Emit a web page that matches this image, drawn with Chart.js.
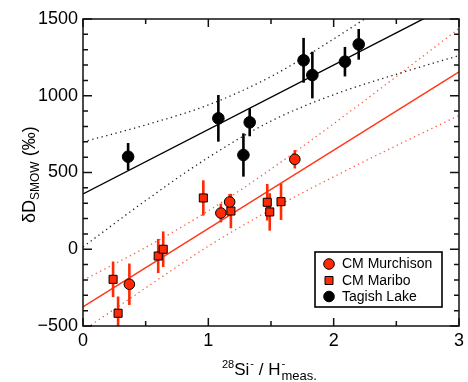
<!DOCTYPE html>
<html>
<head>
<meta charset="utf-8">
<script src="https://cdn.jsdelivr.net/npm/chart.js@4"></script>
<style>
  html, body { margin: 0; padding: 0; background: #fff; }
</style>
</head>
<body>
<canvas id="chart" width="468" height="382"></canvas>
<script>
// Data
const murchisonX = [0.37, 1.10, 1.17, 1.69];
const murchisonY = [-228, 236, 308, 586];
const murchisonErr = [135, 61, 52, 60];

const mariboX = [0.24, 0.28, 0.60, 0.64, 0.96, 1.18, 1.47, 1.49, 1.58];
const mariboY = [-196, -417, -44, 0, 334, 249, 306, 243, 310];
const mariboErr = [116, 109, 111, 116, 115, 112, 119, 122, 119];

const tagishX = [0.36, 1.08, 1.28, 1.33, 1.76, 1.83, 2.09, 2.20];
const tagishY = [603, 853, 614, 827, 1231, 1135, 1222, 1335];
const tagishErr = [89, 152, 141, 91, 146, 152, 96, 100];

// regression lines and their confidence envelopes
const fitX = [0, 3];
const tagishFit = [360, 1620];
const redFit = [-375, 1155];
const bandX = [0, 0.5, 1, 1.5, 2, 2.5, 3];
const tagishUpper = [699, 810, 940, 1125, 1370, 1640, 1930];
const tagishLower = [15, 317, 598, 835, 1007, 1140, 1262];
const redUpper = [-202, 12, 250, 522, 818, 1125, 1438];
const redLower = [-530, -252, 20, 258, 472, 675, 872];

const xTicks = [0, 1, 2, 3];
const yTicks = [-500, 0, 500, 1000, 1500];

const RED = '#ff2a05';
const FONT = '"Liberation Sans", Arial, Helvetica, sans-serif';

const toXY = (xs, ys) => xs.map((x, i) => ({ x: x, y: ys[i] }));

function lineSet(xs, ys, color, dashed) {
    return {
        data: toXY(xs, ys),
        showLine: true,
        pointRadius: 0,
        borderColor: color,
        borderWidth: dashed ? 1.3 : 1.4,
        borderDash: dashed ? [1.3, 3.5] : [],
        cubicInterpolationMode: dashed ? 'monotone' : 'default',
        fill: false,
        order: 5,
        isFit: true
    };
}

// error bars, drawn right before each point set
const errorBars = {
    id: 'errorBars',
    beforeDatasetDraw(chart, args) {
        const ds = chart.data.datasets[args.index];
        if (!ds.errors) return;
        const ctx = chart.ctx;
        const xs = chart.scales.x, ys = chart.scales.y;
        const a = chart.chartArea;
        ctx.save();
        ctx.beginPath();
        ctx.rect(a.left, a.top, a.right - a.left, a.bottom - a.top);
        ctx.clip();
        ctx.strokeStyle = ds.errColor;
        ctx.lineWidth = 2.6;
        ds.data.forEach((p, i) => {
            const px = xs.getPixelForValue(p.x);
            ctx.beginPath();
            ctx.moveTo(px, ys.getPixelForValue(p.y - ds.errors[i]));
            ctx.lineTo(px, ys.getPixelForValue(p.y + ds.errors[i]));
            ctx.stroke();
        });
        ctx.restore();
    }
};

// frame with inward ticks on all four sides
const frame = {
    id: 'frame',
    afterDatasetsDraw(chart) {
        const ctx = chart.ctx;
        const a = chart.chartArea;
        const xs = chart.scales.x, ys = chart.scales.y;
        ctx.save();
        ctx.strokeStyle = '#111';
        ctx.lineWidth = 1.5;
        ctx.strokeRect(a.left, a.top, a.right - a.left, a.bottom - a.top);
        ctx.beginPath();
        for (let v = 0; v <= 3.001; v += 0.5) {
            const px = xs.getPixelForValue(v);
            const len = Math.abs(v - Math.round(v)) < 1e-6 ? 8 : 5;
            ctx.moveTo(px, a.bottom); ctx.lineTo(px, a.bottom - len);
            ctx.moveTo(px, a.top); ctx.lineTo(px, a.top + len);
        }
        for (let v = -500; v <= 1500; v += 100) {
            const py = ys.getPixelForValue(v);
            const len = v % 500 === 0 ? 9 : 5;
            ctx.moveTo(a.left, py); ctx.lineTo(a.left + len, py);
            ctx.moveTo(a.right, py); ctx.lineTo(a.right - len, py);
        }
        ctx.stroke();
        ctx.restore();
    }
};

// axis titles and legend box
const annotations = {
    id: 'annotations',
    afterDraw(chart) {
        const ctx = chart.ctx;
        ctx.save();
        ctx.fillStyle = '#000';
        ctx.textBaseline = 'alphabetic';
        ctx.textAlign = 'left';

        // x title: 28Si- / H-meas.
        const big = '17px ' + FONT, sup = '11px ' + FONT, sub = '13px ' + FONT;
        let x = 222;
        const base = 375;
        ctx.font = sup; ctx.fillText('28', x, base - 7); x += ctx.measureText('28').width;
        ctx.font = big; ctx.fillText('Si', x, base); x += ctx.measureText('Si').width + 1;
        ctx.font = sup; ctx.fillText('-', x, base - 8); x += ctx.measureText('-').width;
        ctx.font = big; ctx.fillText(' / H', x, base); x += ctx.measureText(' / H').width + 1;
        ctx.font = sup; ctx.fillText('-', x, base - 8);
        ctx.font = sub; ctx.fillText('meas.', x, base + 5);

        // y title: δD SMOW (‰)
        ctx.translate(35, 223);
        ctx.rotate(-Math.PI / 2);
        let y = 0;
        ctx.font = '18px ' + FONT; ctx.fillText('\u03b4D', y, 0); y += ctx.measureText('\u03b4D').width;
        ctx.font = '12px ' + FONT; ctx.fillText('SMOW', y, 4); y += ctx.measureText('SMOW').width;
        ctx.font = '18px ' + FONT; ctx.fillText(' (\u2030)', y, 0);
        ctx.setTransform(1, 0, 0, 1, 0, 0);

        // legend
        const lx = 315, ly = 252, lw = 127, lh = 55;
        ctx.fillStyle = '#fff';
        ctx.fillRect(lx, ly, lw, lh);
        ctx.strokeStyle = '#000';
        ctx.lineWidth = 1.6;
        ctx.strokeRect(lx, ly, lw, lh);
        const items = chart.data.datasets.filter(d => !d.isFit);
        const rows = [264, 280.5, 296.5];
        ctx.font = '14px ' + FONT;
        ctx.textBaseline = 'middle';
        items.forEach((d, i) => {
            const cy = rows[i];
            ctx.fillStyle = d.backgroundColor;
            ctx.strokeStyle = '#000';
            ctx.lineWidth = 1;
            ctx.beginPath();
            if (d.pointStyle === 'rect') {
                ctx.rect(329 - 4, cy - 4, 8, 8);
            } else {
                ctx.arc(329, cy, 5.3, 0, Math.PI * 2);
            }
            ctx.fill();
            ctx.stroke();
            ctx.fillStyle = '#000';
            ctx.fillText(d.label, 342, cy + 0.5);
        });
        ctx.restore();
    }
};

new Chart(document.getElementById('chart').getContext('2d'), {
    type: 'scatter',
    data: {
        datasets: [
            {
                label: 'CM Murchison',
                data: toXY(murchisonX, murchisonY),
                errors: murchisonErr,
                errColor: RED,
                pointStyle: 'circle',
                pointRadius: 5.3,
                backgroundColor: RED,
                borderColor: '#000',
                borderWidth: 1,
                order: 1
            },
            {
                label: 'CM Maribo',
                data: toXY(mariboX, mariboY),
                errors: mariboErr,
                errColor: RED,
                pointStyle: 'rect',
                pointRadius: 5.7,
                backgroundColor: RED,
                borderColor: '#000',
                borderWidth: 1,
                order: 2
            },
            {
                label: 'Tagish Lake',
                data: toXY(tagishX, tagishY),
                errors: tagishErr,
                errColor: '#000',
                pointStyle: 'circle',
                pointRadius: 5.8,
                backgroundColor: '#000',
                borderColor: '#000',
                borderWidth: 1,
                order: 3
            },
            lineSet(fitX, tagishFit, '#000', false),
            lineSet(bandX, tagishUpper, '#222', true),
            lineSet(bandX, tagishLower, '#222', true),
            lineSet(fitX, redFit, '#ff3a1a', false),
            lineSet(bandX, redUpper, '#ff5a40', true),
            lineSet(bandX, redLower, '#ff5a40', true)
        ]
    },
    options: {
        responsive: false,
        animation: false,
        layout: { padding: { left: 0, right: 6, top: 19, bottom: 0 } },
        plugins: {
            legend: { display: false },
            tooltip: { enabled: false }
        },
        scales: {
            x: {
                type: 'linear',
                min: 0,
                max: 3,
                afterBuildTicks: s => { s.ticks = xTicks.map(v => ({ value: v })); },
                afterFit: s => { s.height = 56; },
                ticks: { color: '#000', padding: 4, font: { family: FONT, size: 18 } },
                grid: { display: false, drawTicks: false },
                border: { display: false }
            },
            y: {
                min: -500,
                max: 1500,
                afterBuildTicks: s => { s.ticks = yTicks.map(v => ({ value: v })); },
                afterFit: s => { s.width = 83; },
                ticks: {
                    color: '#000',
                    padding: 5,
                    font: { family: FONT, size: 18 },
                    callback: v => String(v).replace('-', '\u2212')
                },
                grid: { display: false, drawTicks: false },
                border: { display: false }
            }
        }
    },
    plugins: [errorBars, frame, annotations]
});
</script>
</body>
</html>
